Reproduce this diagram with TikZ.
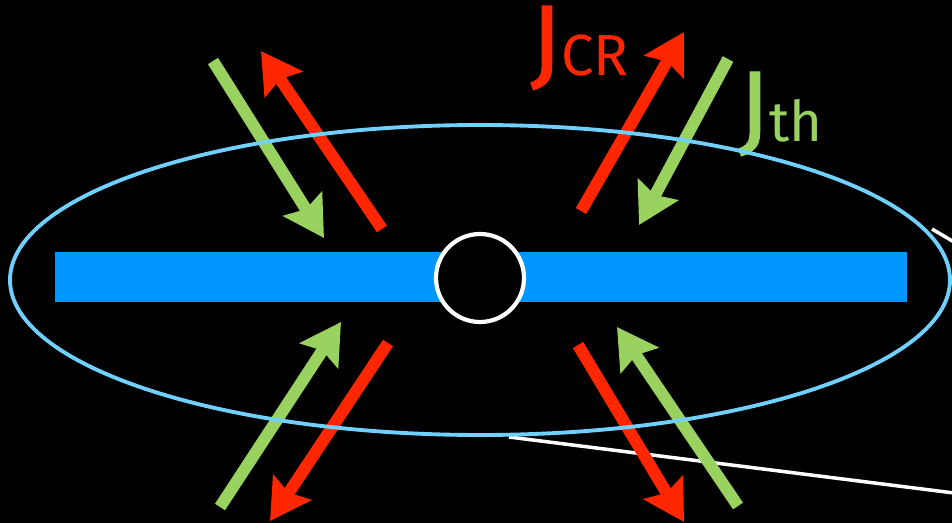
\documentclass[tikz,border=0pt]{standalone}
\usepackage{fontspec}
\setmainfont{Fira Sans}
\usetikzlibrary{arrows.meta, shapes.geometric}

\definecolor{flux_red}{RGB}{255,38,0}
\definecolor{flux_green}{RGB}{153,210,95}
\definecolor{disk_blue}{RGB}{0,150,255}
\definecolor{halo_blue}{RGB}{112,208,255}

\begin{document}
\begin{tikzpicture}[
    x=0.02cm, y=-0.02cm,
    disk/.style={rectangle, fill=disk_blue, inner sep=0, minimum width=852*0.02cm, minimum height=50*0.02cm},
    bulge/.style={circle, draw=white, line width=2.4pt, fill=black, inner sep=0, minimum size=88*0.02cm},
    halo/.style={ellipse, draw=halo_blue, line width=2.2pt, inner sep=0, minimum width=940*0.02cm, minimum height=310*0.02cm},
    zoom_line/.style={draw=white, line width=2pt},
    flux_cr/.style={draw=flux_red, line width=6.8pt, -{Stealth[length=0.8cm, width=0.9cm, inset=0.12cm]}},
    flux_th/.style={draw=flux_green, line width=6.8pt, -{Stealth[length=0.8cm, width=0.9cm, inset=0.12cm]}},
    label_cr/.style={anchor=base west, inner sep=0, text=flux_red},
    label_th/.style={anchor=base west, inner sep=0, text=flux_green},
]
    \fill[black] (0,0) rectangle (952,523);
    \useasboundingbox (0,0) rectangle (952,523);

    \node(disk)[disk] at (481, 277) {};
    \node(bulge)[bulge] at (480, 278) {};

    \coordinate(zoom_top_a) at (932, 229);
    \coordinate(zoom_top_b) at (954, 242);
    \coordinate(zoom_bot_a) at (509, 437);
    \coordinate(zoom_bot_b) at (954, 493);
    \draw[zoom_line] (zoom_top_a) -- (zoom_top_b);
    \draw[zoom_line] (zoom_bot_a) -- (zoom_bot_b);

    % inflow of thermal gas, outflow of cosmic rays
    \coordinate(th_ul_tail) at (213, 61);
    \coordinate(th_ul_tip) at (324, 238);
    \coordinate(cr_ul_tail) at (382, 229);
    \coordinate(cr_ul_tip) at (261, 51);
    \coordinate(cr_ur_tail) at (581, 211);
    \coordinate(cr_ur_tip) at (684, 32);
    \coordinate(th_ur_tail) at (728, 59);
    \coordinate(th_ur_tip) at (639, 225);
    \coordinate(th_ll_tail) at (220, 507);
    \coordinate(th_ll_tip) at (341, 322);
    \coordinate(cr_ll_tail) at (388, 343);
    \coordinate(cr_ll_tip) at (270, 521);
    \coordinate(cr_lr_tail) at (578, 345);
    \coordinate(cr_lr_tip) at (684, 522);
    \coordinate(th_lr_tail) at (738, 506);
    \coordinate(th_lr_tip) at (617, 327);

    \draw[flux_th] (th_ul_tail) -- (th_ul_tip);
    \draw[flux_cr] (cr_ul_tail) -- (cr_ul_tip);
    \draw[flux_cr] (cr_ur_tail) -- (cr_ur_tip);
    \draw[flux_th] (th_ur_tail) -- (th_ur_tip);
    \draw[flux_th] (th_ll_tail) -- (th_ll_tip);
    \draw[flux_cr] (cr_ll_tail) -- (cr_ll_tip);
    \draw[flux_cr] (cr_lr_tail) -- (cr_lr_tip);
    \draw[flux_th] (th_lr_tail) -- (th_lr_tip);

    \node(j_cr)[label_cr] at (530, 76) {{\fontsize{58}{58}\selectfont\addfontfeature{FakeBold=1}J}{\fontsize{33}{33}\selectfont CR}};
    \node(j_th)[label_th] at (738, 142) {{\fontsize{58}{58}\selectfont\addfontfeature{FakeBold=1}J}{\fontsize{32}{32}\selectfont th}};

    \node(halo)[halo] at (480, 280) {};
\end{tikzpicture}
\end{document}
